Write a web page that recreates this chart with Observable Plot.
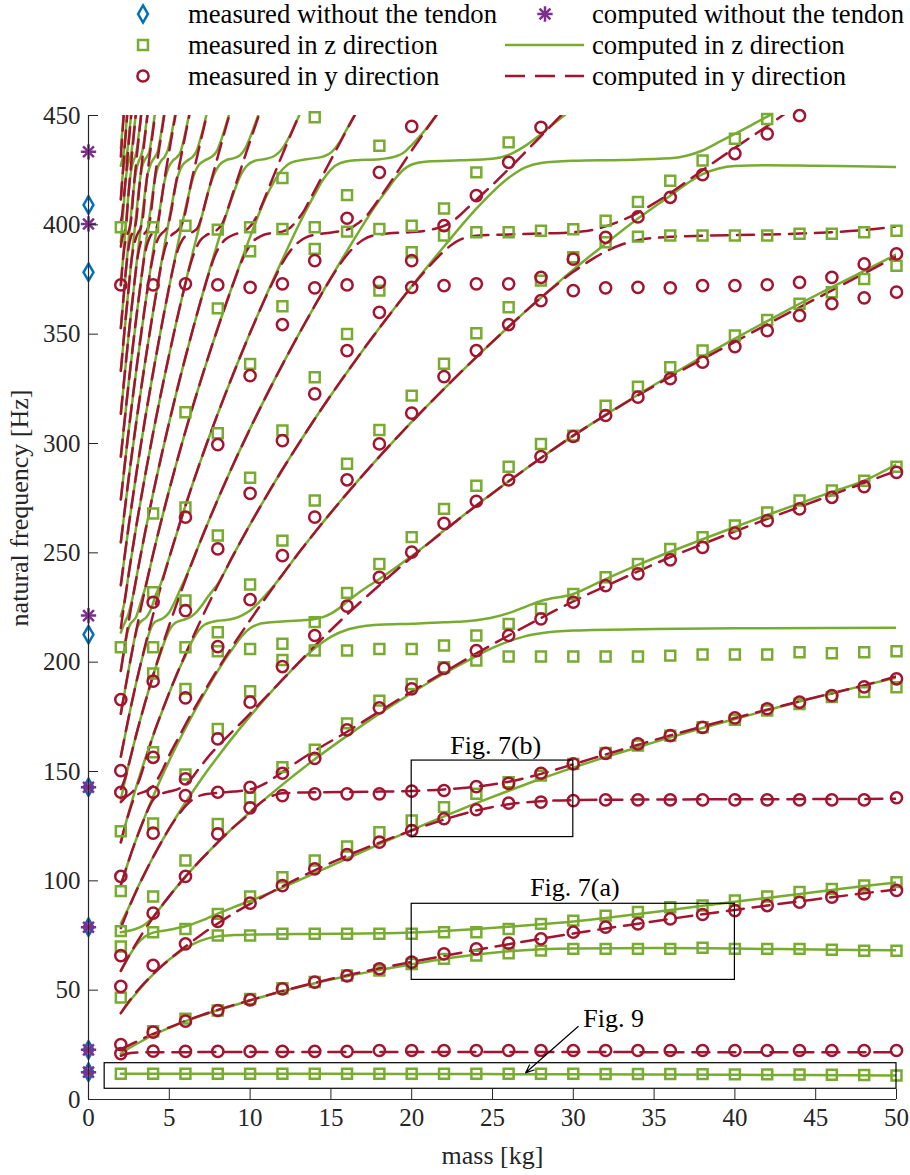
<!DOCTYPE html>
<html><head><meta charset="utf-8">
<script src="https://cdn.jsdelivr.net/npm/d3@7"></script>
<script src="https://cdn.jsdelivr.net/npm/@observablehq/plot@0.6"></script>
<style>
body{margin:0;background:#fff;}
#legend svg,#chart svg{display:block;}
</style></head><body>
<div id="legend"></div>
<div id="chart"></div>
<script>
// ---------- computed curves, z direction (green solid): [mass, frequency] ----------
const z0=[[2,11.8],[10,11.8],[20,11.7],[30,11.5],[40,11.3],[50,11.0]];
const z1=[[2,21],[2.5,23.5],[3,25.5],[4,29.5],[5,32.8],[6,35.8],[7,38.4],[8,40.8],[10,45.3],[12,49.5],[14,53.2],[16,56.4],[18,59.2],[20,61.9],[22,64.3],[24,66.3],[26,67.8],[28,68.7],[30,69.1],[35,69.3],[40,69],[45,68.6],[50,68.2]];
const z2=[[2,39.5],[2.5,44.5],[3,49],[3.5,53.3],[4,57.2],[4.5,60.8],[5,64],[5.5,66.8],[6,69.2],[6.5,71.2],[7,72.8],[7.5,73.9],[8,74.6],[9,75.2],[10,75.4],[12,75.6],[14,75.7],[16,75.8],[18,76],[20,76.4],[22,77.1],[24,78],[26,79],[28,80.1],[30,81.4],[32,83],[34,84.8],[36,86.7],[38,88.6],[40,90.4],[42,92.2],[44,94],[46,95.8],[48,97.6],[50,99.3]];
const z3=[[2,58.8],[2.5,65.5],[3,71],[3.5,74.5],[4,76.3],[5,77.6],[6,79.2],[7,81.8],[8,85],[9,88],[10,90.8],[11,93.8],[12,96.9],[14,103.5],[16,110.2],[18,116.8],[20,123.2],[22,129.5],[24,135.5],[26,141.2],[28,146.7],[30,151.8],[32,156.6],[34,161.1],[36,165.6],[38,169.9],[40,174],[42,178],[44,182],[46,185.7],[48,189.4],[50,193]];
const z4=[[2,76.5],[2.5,77.2],[3,78.2],[3.5,80],[4,83.5],[4.5,88.2],[5,93],[6,101.9],[7,110],[8,117.6],[9,124.7],[10,131.5],[12,144],[14,155.6],[16,166.3],[18,176.4],[20,185.9],[22,194.8],[24,202.8],[25,206.5],[26,209.5],[27,211.8],[28,213.2],[30,214.5],[35,215.2],[40,215.5],[50,215.7]];
const z5=[[2,80.5],[2.5,88],[3,96.2],[4,110.9],[5,124],[6,135.8],[7,146.7],[8,156.8],[9,166.3],[10,175.3],[11,183.9],[12,192],[13,199.6],[14,206.4],[15,211.6],[16,214.8],[17,216.4],[18,217.1],[20,217.6],[22,218.2],[24,219.2],[25,220.4],[26,222.4],[27,225.2],[28,228],[30,231.2],[32,238],[34,244.5],[36,250.5],[38,256.2],[40,261.8],[42,267.3],[44,272.6],[46,277.8],[48,283],[50,290.5]];
const z6=[[2,98],[2.5,109.5],[3,120],[3.5,129.6],[4,138.6],[5,155],[6,169.8],[7,183.4],[8,196],[8.5,201.8],[9,207],[9.5,212],[10,215.5],[10.5,217.3],[11,218],[12,218.6],[13,219],[14,219.7],[14.5,220.6],[15,222.2],[15.5,224.6],[16,227.6],[17,233.2],[18,238],[20,248.5],[22,260.2],[24,271.7],[26,282.7],[28,293.4],[30,303.6],[32,313.1],[34,322.3],[36,331.1],[38,339.7],[40,348],[42,356],[44,363.9],[46,371.5],[48,378.9],[50,386.5]];
const z7=[[2,117.6],[2.5,131.5],[3,144.1],[3.5,155.6],[4,166.3],[4.5,176.4],[5,186],[5.5,195],[6,203],[6.4,209.5],[6.8,214.4],[7.2,217.2],[7.6,218.3],[8,218.9],[8.5,219.3],[9,220],[9.5,221.4],[10,223.6],[10.5,227],[11,231],[11.5,235.2],[12,240],[13,249.9],[14,259.3],[15,268.4],[16,277.2],[18,294],[20,309.9],[22,325],[24,339.5],[26,353.4],[28,366.7],[30,379.5],[32,391.4],[34,402.9],[35,408.2],[36,413.3],[37,418.7],[38,423.2],[39,425.8],[40,426.9],[42,427.3],[45,427],[50,426.5]];
const z8=[[2,137.2],[2.5,153.4],[3,168.1],[3.5,181.5],[4,194],[4.5,205],[4.8,211.3],[5.1,215.8],[5.4,218.1],[5.8,219.2],[6.2,220.2],[6.6,222.3],[7,225.8],[7.4,230],[7.8,233.8],[8,235.8],[9,249.5],[10,263],[11,275.8],[12,288.1],[13,299.8],[14,311.2],[15,322.1],[16,332.6],[18,352.8],[20,371.9],[22,390.1],[24,407.4],[25,415],[26,421.5],[27,426.2],[28,428.3],[30,429.3],[33,429.7],[36,430.4],[37,431.6],[38,434],[39,437.8],[40,441.6],[41,445.5],[42,449.5],[43,453.3]];
const z9=[[2,156.8],[2.5,175.3],[3,192.1],[3.3,201.2],[3.5,206.5],[3.7,212],[3.9,216.2],[4.1,218.3],[4.4,219.3],[4.7,220.5],[5,222.8],[5.3,227],[5.6,232],[6,238.5],[7,256.7],[8,274.4],[9,291.1],[10,306.8],[11,321.8],[12,336.1],[13,349.8],[14,363],[15,375.8],[16,388.1],[17,400.1],[18,411.3],[18.5,416.3],[19,421.3],[19.5,425.3],[20,427.6],[21,429],[23,429.5],[25,430.2],[26,432],[27,436],[28,441.5],[29,447.5],[29.6,451]];
const z10=[[2,176.4],[2.5,197.2],[2.7,205],[2.85,210.8],[3,215.3],[3.15,217.8],[3.35,219.2],[3.55,220.3],[3.75,222.4],[3.95,226],[4.15,230.5],[4.4,234.5],[5,247.9],[6,271.6],[7,293.4],[8,313.6],[9,332.6],[10,350.6],[11,367.8],[12,384.1],[13,399.8],[14,414],[14.5,420.5],[15,425.3],[15.5,428],[16.5,429.5],[18,430],[19,431.3],[19.5,433],[20,436.5],[20.5,440.5],[21,445],[21.5,449.9],[22,455]];
const z11=[[2,196],[2.2,205.6],[2.3,209.8],[2.45,214.8],[2.6,217.6],[2.8,219.2],[2.95,220.8],[3.1,224],[3.3,229],[3.5,233.6],[4,249.5],[4.5,264.6],[5,278.9],[6,305.6],[7,330],[8,352.8],[9,374.2],[10,394.5],[11,413],[11.5,420],[12,425.3],[12.5,428.3],[13.5,430],[14.5,431.2],[15,433],[15.5,437.5],[16,444],[16.5,450.6],[17,457]];
const z12=[[2,213.5],[2.15,216.5],[2.3,219],[2.45,221.5],[2.6,225.5],[2.8,232],[3,240.1],[3.5,259.3],[4,277.2],[4.5,294],[5,309.9],[5.5,325.1],[6,339.5],[6.5,353.4],[7,366.7],[7.5,379.6],[8,392],[8.5,404.1],[9,415],[9.4,422.5],[9.8,427],[10.3,429.3],[11,430.2],[11.5,431.5],[11.9,434],[12.3,438.5],[12.7,444.5],[13.1,451],[13.5,457]];
const z13=[[2,221],[2.2,226.5],[2.5,241],[3,264.1],[3.5,285.2],[4,304.9],[4.5,323.4],[5,340.9],[5.5,357.6],[6,373.5],[6.5,388.7],[7,403.4],[7.4,415],[7.75,422.8],[8.1,427.4],[8.5,429.5],[9,430.5],[9.4,432],[9.7,435],[10,440],[10.3,446],[10.6,452],[10.9,458]];
const z14=[[2,235.2],[2.5,263],[3,288.1],[3.5,311.2],[4,332.6],[4.5,352.8],[5,371.9],[5.5,390.1],[6,407.4],[6.2,413.8],[6.5,422.3],[6.8,427.2],[7.2,429.5],[7.6,431],[7.95,433.8],[8.2,438.5],[8.5,445.5],[8.8,453],[9,458]];
const z15=[[2,254.8],[2.5,284.9],[3,312.1],[3.5,337.1],[4,360.4],[4.5,382.2],[5,402.9],[5.25,413],[5.5,421.5],[5.75,426.5],[6.1,429.3],[6.4,430.8],[6.7,434],[6.95,440],[7.2,447.3],[7.45,455]];
const z16=[[2,274.4],[2.5,306.8],[3,336.1],[3.5,363],[4,388.1],[4.5,411],[4.7,419.8],[4.95,426.2],[5.2,429.2],[5.45,430.8],[5.7,433.5],[5.9,439],[6.1,446],[6.3,453]];
const z17=[[2,294],[2.5,328.7],[3,360.1],[3.5,389],[3.9,410.5],[4.1,420.5],[4.3,426.5],[4.5,429.3],[4.7,431],[4.9,434],[5.05,438.5],[5.2,444],[5.4,452]];
const z18=[[2,313.6],[2.5,350.6],[3,384.1],[3.45,412],[3.6,421],[3.8,426.8],[3.95,429.3],[4.1,431],[4.3,434],[4.45,440],[4.6,447],[4.75,454.5]];
const z19=[[2,333.2],[2.5,372.5],[3,408.1],[3.15,418.5],[3.3,426],[3.45,429.3],[3.6,431],[3.78,434],[3.9,439.5],[4.02,446],[4.15,453]];
const z20=[[2,352.8],[2.5,394.5],[2.75,413.5],[2.88,421.5],[3,426.5],[3.12,429.3],[3.22,431],[3.34,434],[3.45,439],[3.55,445],[3.68,453]];
const z21=[[2,372.4],[2.3,399.4],[2.45,412],[2.57,421],[2.68,426.5],[2.78,429.3],[2.88,431],[2.98,434],[3.08,439.5],[3.17,445],[3.28,452]];
const z22=[[2,392],[2.2,411],[2.3,420.5],[2.41,426.5],[2.5,429.3],[2.58,431],[2.67,434],[2.76,439.5],[2.85,445.5],[2.95,452]];
const z23=[[2,411.6],[2.08,420],[2.18,426.5],[2.26,429.3],[2.33,431],[2.41,434],[2.49,439.5],[2.57,445.5],[2.66,452]];
const z24=[[2,427],[2.07,429.3],[2.13,431],[2.2,434],[2.27,439.5],[2.33,445],[2.41,452]];
const z25=[[2,435],[2.06,440],[2.12,445.5],[2.19,452]];

// ---------- computed curves, y direction (red dashed) ----------
const y0=[[2,20],[2.3,20.8],[2.6,21.3],[3,21.5],[4,21.6],[10,21.7],[20,21.7],[30,21.7],[40,21.6],[50,21.6]];
const y1=[[2,23],[2.5,24.8],[3,26.6],[4,30],[5,33],[6,35.9],[7,38.6],[8,41],[10,45.4],[12,49.6],[14,53.4],[16,56.8],[18,60],[20,62.9],[22,65.7],[24,68.4],[26,71],[28,73.5],[30,75.9],[32,78.2],[34,80.4],[36,82.6],[38,84.7],[40,86.7],[42,88.7],[44,90.6],[46,92.5],[48,94.3],[50,96.1]];
const y2=[[2,39.5],[2.5,44.8],[3,49.5],[3.5,53.6],[4,57.4],[5,64],[6,70],[7,75.5],[8,80.5],[9,85.2],[10,89.5],[12,97.5],[14,104.8],[16,111.5],[18,117.5],[20,123],[22,128],[24,132.2],[26,135],[28,136.4],[30,136.9],[35,137.2],[40,137.3],[45,137.4],[50,137.5]];
const y3=[[2,58.8],[2.5,65.7],[3,72],[3.5,77.8],[4,83.2],[5,93],[6,101.9],[7,110],[8,117.6],[9,124.7],[10,131],[10.5,134.8],[11,137.5],[11.5,139.2],[12,140],[14,140.5],[16,140.6],[18,140.8],[20,141.1],[22,141.8],[24,143.1],[26,145.3],[28,148.9],[30,153.3],[32,157.8],[34,162.2],[36,166.5],[38,170.6],[40,174.5],[42,178.3],[44,182.1],[46,185.8],[48,189.4],[50,193.5]];
const y4=[[2,78.4],[2.5,87.6],[3,96],[3.5,103.7],[4,110.9],[4.5,117.6],[5,124],[5.5,129.5],[6,134.2],[6.5,137.5],[7,139.2],[8,140.2],[9,140.8],[10,141.8],[10.5,143],[11,144.8],[11.5,147.2],[12,149.8],[13,154.8],[14,159.5],[16,168.2],[18,177.5],[20,186.6],[22,195.4],[24,204],[26,212.2],[28,220.2],[30,227.8],[32,234.8],[34,241.5],[36,248],[38,254],[40,259.8],[42,265.5],[44,271],[46,276.5],[48,282],[50,287.5]];
const y5=[[2,98],[2.5,109.5],[3,120],[3.5,129.3],[3.8,134.5],[4.1,138],[4.4,139.6],[4.8,140.5],[5.2,141.2],[5.6,142.2],[6,144],[6.4,147],[6.8,151],[7.2,154.8],[7.5,157.5],[8,161.5],[9,169],[10,176.5],[11,184.3],[12,192],[14,207.4],[16,221.8],[18,235.2],[20,248],[22,260],[24,271.6],[26,282.7],[28,293.4],[30,303.6],[32,313],[34,322],[36,330.5],[38,338.6],[40,346.5],[42,354.5],[44,362.3],[46,370],[48,377.8],[50,385.5]];
const y6=[[2,117.6],[2.3,126.1],[2.5,131],[2.7,135.5],[2.9,138.5],[3.1,139.8],[3.4,140.6],[3.7,141.6],[4,143.5],[4.3,146.8],[4.6,151],[5,157.5],[5.5,164.5],[6,171.5],[7,184.5],[8,196.8],[9,208.3],[10,219.2],[11,229.8],[12,240],[13,249.9],[14,259.3],[16,277.2],[18,294],[20,309.9],[22,325],[24,339.5],[26,353.4],[28,366.7],[30,378.5],[31,383.5],[32,387.8],[33,391],[34,393],[36,394.5],[38,395],[40,395.3],[42,395.6],[44,396],[46,396.6],[48,397.6],[50,399.3]];
const y7=[[2,136],[2.3,138.3],[2.6,139.9],[2.8,141.3],[3,143.5],[3.3,149.5],[3.6,157],[4,166.5],[4.5,176.6],[5,186.1],[6,203.7],[7,220],[8,235.2],[9,249.5],[10,263],[11,275.8],[12,288.1],[13,299.8],[14,311.2],[15,322.1],[16,332.6],[17,342.9],[18,352.8],[19,362.4],[20,371.7],[21,380.3],[21.5,384.3],[22,388],[22.5,391],[23,393.2],[24,395],[26,395.6],[28,396],[30,396.6],[31,397.4],[32,399.3],[33,402],[34,405.5],[35,409.8],[36,414.5],[38,425],[40,435.2],[42,445.2],[43,450.3],[43.5,453]];
const y8=[[2,142],[2.3,147.8],[2.5,153.5],[3,168.1],[3.5,181.5],[4,194],[5,217],[6,237.7],[7,256.7],[8,274.4],[9,291.1],[10,306.8],[11,321.8],[12,336.1],[13,349.8],[14,363],[15,375.5],[15.5,381.3],[16,386.3],[16.5,390.3],[17,393.2],[17.5,394.9],[18.5,396],[20,396.7],[21,397.5],[22,399.5],[22.5,401.5],[23,404.5],[23.5,408],[24,411.5],[25,418.3],[26,425.5],[27,433],[28,440.6],[29,448.2],[29.5,452]];
const y9=[[2,156.8],[2.5,175.3],[3,192.1],[3.5,207.4],[4,221.8],[5,247.9],[6,271.6],[7,293.4],[8,313.6],[9,332.6],[10,350.6],[11,367.5],[11.5,375.3],[12,382.6],[12.5,388.2],[13,392.1],[13.5,394.4],[14.5,396],[15.5,397],[16.2,398.4],[16.7,400.8],[17.2,404],[17.7,409],[18.2,414.2],[19,422.9],[20,434],[21,444.6],[22,455]];
const y10=[[2,176.4],[2.5,197.2],[3,216.1],[3.5,233.4],[4,249.5],[5,278.9],[6,305.6],[7,330],[8,352.8],[9,374],[9.4,382],[9.8,388.3],[10.2,392.5],[10.7,395],[11.3,396.2],[12,396.9],[12.5,398.8],[12.9,402],[13.3,406],[13.7,411.5],[14.2,418.5],[14.7,425.5],[15.2,432.5],[15.7,439.5],[16.2,446.4],[16.7,453.2]];
const y11=[[2,196],[2.5,219.1],[3,240.1],[3.5,259.3],[4,277.2],[4.5,294],[5,309.9],[5.5,325.1],[6,339.5],[6.5,353.4],[7,366.7],[7.5,379],[7.8,385.5],[8.1,390],[8.5,393.5],[9,395.5],[9.5,396.8],[9.9,398.5],[10.2,401.2],[10.5,405.2],[11,414],[11.5,423.2],[12,432.2],[12.5,441],[13,449.7],[13.3,455]];
const y12=[[2,215.6],[2.5,241],[3,264.1],[3.5,285.2],[4,304.9],[4.5,323.4],[5,340.9],[5.5,357.6],[6,373.2],[6.3,381.8],[6.6,388.3],[6.9,392.7],[7.3,395.3],[7.7,396.6],[8,398],[8.3,400.8],[8.6,406.8],[9,415.9],[9.5,427.2],[10,438.3],[10.5,449.1],[10.8,455.5]];
const y13=[[2,235.2],[2.5,263],[3,288.1],[3.5,311.2],[4,332.6],[4.5,352.8],[5,371.9],[5.3,382.3],[5.55,389],[5.8,393],[6.1,395.5],[6.45,396.8],[6.75,398.6],[7,403.6],[7.25,410.6],[7.5,417.6],[8,431.2],[8.5,444.5],[8.8,452.3]];
const y14=[[2,254.8],[2.5,284.9],[3,312.1],[3.5,337.1],[4,360.4],[4.3,373.4],[4.55,383.6],[4.75,389.7],[4.95,393.5],[5.2,395.7],[5.45,397],[5.7,399.2],[5.9,403],[6.1,409.5],[6.3,417.5],[6.6,427.3],[7,440.1],[7.3,449.4],[7.5,455.5]];
const y15=[[2,274.4],[2.5,306.8],[3,336.1],[3.5,363],[3.8,377.8],[3.98,385.2],[4.15,390.5],[4.35,394.3],[4.55,396.2],[4.75,397.6],[4.95,400.6],[5.15,407.5],[5.35,416.6],[5.6,426.4],[5.9,437.6],[6.2,448.6],[6.4,455.8]];
const y16=[[2,294],[2.5,328.7],[3,360.1],[3.3,377.2],[3.46,385.5],[3.62,390.8],[3.8,394.5],[3.97,396.4],[4.15,397.8],[4.32,401.5],[4.5,410.5],[4.7,420.7],[5,433.9],[5.3,446.7],[5.5,455]];
const y17=[[2,313.6],[2.5,350.6],[2.8,370.7],[2.97,381.5],[3.12,388.5],[3.28,393],[3.45,395.8],[3.62,397.5],[3.78,401],[3.93,409.5],[4.1,421],[4.4,436.1],[4.7,450.7],[4.85,457.8]];
const y18=[[2,333.2],[2.3,357.4],[2.5,372],[2.65,383],[2.8,390],[2.95,394.3],[3.08,396.5],[3.22,398.4],[3.36,403],[3.5,413.5],[3.7,426.6],[3.9,437.9],[4.15,451.8]];
const y19=[[2,352.8],[2.2,369.5],[2.35,381.8],[2.49,390],[2.62,394.5],[2.74,396.6],[2.86,398.5],[2.98,403.5],[3.1,413.5],[3.3,428],[3.5,440.8],[3.7,453.2]];
const y20=[[2,372.4],[2.12,383],[2.24,390.5],[2.36,394.8],[2.47,396.8],[2.57,399.2],[2.67,404.5],[2.78,415.5],[2.95,428.5],[3.1,439.3],[3.3,453.2]];
const y21=[[2,390],[2.08,393.8],[2.17,396],[2.26,397.5],[2.35,401.5],[2.45,412],[2.6,424.6],[2.75,436.7],[2.95,452.3]];
const y22=[[2,401.5],[2.08,404.5],[2.16,410.5],[2.3,421],[2.45,434],[2.64,450],[2.7,455.5]];
const y23=[[2,411.6],[2.2,431.7],[2.4,450.9]];
const y24=[[2,431.2],[2.2,452.3]];

// ---------- measured values ----------
const masses=[2,4,6,8,10,12,14,16,18,20,22,24,26,28,30,32,34,36,38,40,42,44,46,48,50];
const zMeasured=[
 [11.8,46.6,70,77,95.3,122.7,206.8,398.9],
 [11.8,31.2,76.5,92.8,126.2,158.8,194.8,206.8,232,268,398.9],
 [11.8,37,78,109.3,148.6,187.8,206.8,228.2,270.8,314.3,399.6],
 [11.8,40.7,75,84.9,126,169.5,205,213.7,257.9,304.7,361.8,397.8],
 [11.8,46,75,92.8,138,186.7,206,235.5,284.3,336.4,387.9,398.9],
 [11.8,50.9,75.8,101.6,152,201,208.4,255.6,306,362.8,398.1,421.4],
 [11.8,53.7,75.8,109.3,160,205.3,218.3,273.9,330.3,389,398.9,449.2],
 [11.8,56.7,75.8,115.7,172,205.3,231.7,290.7,350.1,396.9,413.6],
 [11.8,59,75.8,122.2,182.4,206,244.9,306.2,369.9,398.1,436.2],
 [11.8,62,75.8,127.6,190,206,257.2,321.9,387.5,399.6],
 [11.8,64.3,76.5,133.7,197.7,207.6,270.1,336.5,395.1,407.5],
 [11.8,65.8,76.5,139.8,200.7,212.2,280.7,350.4,396.6,424],
 [11.8,66.9,78,145.1,202.6,217.5,289.4,362.3,396.6,437.7],
 [11.8,68.1,80.3,148.1,202.6,224.4,299.8,374.5,397.3],
 [11.8,68.9,81.8,153.5,202.6,231.2,303.6,385.2,398],
 [11.7,68.9,84.1,158.5,202.6,238.8,317.3,392,401.9],
 [11.7,68.9,85.8,161.9,202.6,244.9,326,394.6,410.5],
 [11.7,68.9,87.9,166.4,203,251.8,334.9,395.1,420.2],
 [11.6,69.4,88.7,170.2,203.5,257.1,342.5,395.1,429.4],
 [11.5,68.9,91,173.6,203.5,262.5,349.4,395.1,439.4],
 [11.5,68.9,92.8,177.9,203.5,268.5,356.5,395.1,448.4],
 [11.4,68.9,94.9,180.9,204.5,273.9,363.9,395.9],
 [11.3,68.5,96.3,184,204.1,278.5,369.2,395.9],
 [11.2,68,97.9,186.3,204.5,283,375.2,396.6],
 [11.0,68,99.4,188.5,205,289.4,381.3,397.3]];
const yMeasured=[
 [21,25.1,51.7,65.8,102,140.5,150.4,182.9,372.5],
 [22.1,30.8,61.3,85.2,121.8,140.5,156.5,191.3,227.4,372.5],
 [22,35.8,71.2,102,139,146.6,183.7,223.6,266.3,373],
 [22,40.7,81.4,121.5,140.5,164.9,207.1,251.8,299.5,372.5],
 [22,45.6,89.8,133.4,142.8,181.7,228.6,277.2,331,371.4],
 [22,50.6,97.8,139,149.2,198,248.7,301.3,354.4,373],
 [22,53.7,105.5,139.8,156,212.2,266.3,322.7,371.2,383.6],
 [22,56.5,112,139.8,169,225.6,283.4,342.5,372.5,403],
 [22.4,59.8,117.7,139.8,179.1,238.8,299.8,360,373.7,424],
 [22.4,62.8,123,141,187.8,250.3,313.9,371.4,383.6,445],
 [22.4,66.6,128.4,141.3,197.2,263.5,330.6,372.2,399.6],
 [22.4,68.9,132.5,143.1,205.3,273.6,342.5,373,413.4],
 [22.4,71.5,135.5,144.6,212.2,283.3,354.4,373,428.6],
 [22.4,73.5,136,149.2,219.8,294,365.3,376,444.6],
 [22.4,76.5,136.7,153.5,227.4,303.2,369.9,384.3],
 [22.4,78.8,137,158.3,235,312.8,371.2,394.3],
 [22.4,80.3,137,162.6,240.4,321.2,371.4,403.6],
 [22.4,82.6,137,166.4,246.8,329.6,371.2,412.6],
 [22.4,84.6,137,170.2,252.5,337.2,372.2,422.9],
 [22.4,86.4,137,174.5,259,344.3,372.2,432.6],
 [22.4,88.7,137,178.7,264.7,351.6,372.6,441.6],
 [22.4,90.2,137,181.7,270.1,358.5,373.7,449.9],
 [22.4,92.5,137,184.7,275.4,363.9,376],
 [22.4,94,137,188.7,280.3,366.6,382.1],
 [22.4,95.6,138,192.4,286.8,369.2,386.7]];
const measuredNoTendon=[12.5,22.7,78.8,142.8,212.6,378.3,409.1];
const computedNoTendon=[12.5,22.7,78.8,142.8,221.3,400.4,433.4];

// ---------- annotations ----------
const boxLabels=["Fig. 7(b)","Fig. 7(a)","Fig. 9"];
const boxX1=[20,20,1], boxX2=[30,40,50], boxY1=[120,54.7,4.9], boxY2=[155,89.5,16.6];
const labelX=[25.2,30.1,32.5], labelY=[162,97.1,36.9];
const arrowFrom=[30.3,33.4], arrowTo=[27.05,12.2];
const xTicks=[0,5,10,15,20,25,30,35,40,45,50];
const yTicks=[0,50,100,150,200,250,300,350,400,450];
const xLabel="mass [kg]", yLabel="natural frequency [Hz]";
const legendLabels=["measured without the tendon","computed without the tendon","measured in z direction","computed in z direction","measured in y direction","computed in y direction"];

// ---------- build tables ----------
const GREEN="#77AC30", RED="#A2142F", BLUE="#0072BD", PURPLE="#7E2F8E", AX="#262626";
const FONT="'Liberation Serif','Times New Roman',Times,serif";
const DASH="17,9";
const zBranches=[z0,z1,z2,z3,z4,z5,z6,z7,z8,z9,z10,z11,z12,z13,z14,z15,z16,z17,z18,z19,z20,z21,z22,z23,z24,z25];
const yBranches=[y0,y1,y2,y3,y4,y5,y6,y7,y8,y9,y10,y11,y12,y13,y14,y15,y16,y17,y18,y19,y20,y21,y22,y23,y24];
const zRows=zBranches.flatMap((b,i)=>b.map(p=>({m:p[0],f:p[1],id:i})));
const yRows=yBranches.flatMap((b,i)=>b.map(p=>({m:p[0],f:p[1],id:i})));
const zPts=masses.flatMap((m,i)=>zMeasured[i].map(f=>({m,f})));
const yPts=masses.flatMap((m,i)=>yMeasured[i].map(f=>({m,f})));
const measNT=measuredNoTendon.map(f=>({m:0,f}));
const compNT=computedNoTendon.map(f=>({m:0,f}));

// ---------- legend ----------
const L=d3.select("#legend").append("svg").attr("width",910).attr("height",100)
  .attr("font-family",FONT).attr("font-size",26.7).attr("fill","#000");
const sym=(t,r)=>d3.symbol(t,r*r*Math.PI)();
const rowsY=[14,45,76];
const symX=143, astX=545, sampleX1=505, sampleX2=584, textX1=188, textX2=592;
L.append("path").attr("d",sym(d3.symbolDiamond,5.2)).attr("transform",`translate(${symX},${rowsY[0]})`).attr("fill","none").attr("stroke",BLUE).attr("stroke-width",2.5);
L.append("path").attr("d",sym(d3.symbolSquare,5.6)).attr("transform",`translate(${symX},${rowsY[1]})`).attr("fill","none").attr("stroke",GREEN).attr("stroke-width",2.5);
L.append("path").attr("d",sym(d3.symbolCircle,5.6)).attr("transform",`translate(${symX},${rowsY[2]})`).attr("fill","none").attr("stroke",RED).attr("stroke-width",2.5);
L.append("path").attr("d",sym(d3.symbolPlus,5)).attr("transform",`translate(${astX},${rowsY[0]})`).attr("fill","none").attr("stroke",PURPLE).attr("stroke-width",2.5);
L.append("path").attr("d",sym(d3.symbolTimes,5)).attr("transform",`translate(${astX},${rowsY[0]})`).attr("fill","none").attr("stroke",PURPLE).attr("stroke-width",2.5);
L.append("line").attr("x1",sampleX1).attr("x2",sampleX2).attr("y1",rowsY[1]).attr("y2",rowsY[1]).attr("stroke",GREEN).attr("stroke-width",2.5);
L.append("line").attr("x1",sampleX1).attr("x2",sampleX2).attr("y1",rowsY[2]).attr("y2",rowsY[2]).attr("stroke",RED).attr("stroke-width",2.5).attr("stroke-dasharray","20,10");
legendLabels.forEach((t,i)=>{
  L.append("text").attr("x",i%2===0?textX1:textX2).attr("y",rowsY[Math.floor(i/2)]).attr("dy","0.32em").text(t);
});

// ---------- chart ----------
const chart=Plot.plot({
  width:910, height:1075,
  marginLeft:88, marginRight:14, marginTop:15, marginBottom:76,
  x:{domain:[0,50]}, y:{domain:[0,450]},
  style:{fontFamily:FONT, color:AX, background:"white"},
  marks:[
    Plot.line(zRows,{x:"m",y:"f",z:"id",stroke:GREEN,strokeWidth:2.5,curve:"monotone-x",clip:true}),
    Plot.line(yRows,{x:"m",y:"f",z:"id",stroke:RED,strokeWidth:2.5,strokeDasharray:DASH,curve:"monotone-x",clip:true}),
    Plot.dot(zPts,{x:"m",y:"f",symbol:"square",r:5.6,stroke:GREEN,strokeWidth:2.5,fill:"none"}),
    Plot.dot(yPts,{x:"m",y:"f",symbol:"circle",r:5.6,stroke:RED,strokeWidth:2.5,fill:"none"}),
    Plot.dot(measNT,{x:"m",y:"f",symbol:"diamond",r:5.2,stroke:BLUE,strokeWidth:2.5,fill:"none"}),
    Plot.dot(compNT,{x:"m",y:"f",symbol:"plus",r:5,stroke:PURPLE,strokeWidth:2.5}),
    Plot.dot(compNT,{x:"m",y:"f",symbol:"times",r:5,stroke:PURPLE,strokeWidth:2.5}),
    Plot.rect(boxLabels,{x1:(d,i)=>boxX1[i],x2:(d,i)=>boxX2[i],y1:(d,i)=>boxY1[i],y2:(d,i)=>boxY2[i],fill:"none",stroke:"#000",strokeWidth:1.2}),
    Plot.text(boxLabels,{x:(d,i)=>labelX[i],y:(d,i)=>labelY[i],fontSize:26,fill:"#000"}),
    Plot.arrow([0],{x1:()=>arrowFrom[0],y1:()=>arrowFrom[1],x2:()=>arrowTo[0],y2:()=>arrowTo[1],stroke:"#000",strokeWidth:1.2,headLength:11,headAngle:45}),
    Plot.ruleX([0],{stroke:AX,strokeWidth:1.2}),
    Plot.ruleY([0],{stroke:AX,strokeWidth:1.2}),
    Plot.axisX({ticks:xTicks,tickSize:10,dy:-10,tickPadding:9,fontSize:25,label:null}),
    Plot.axisY({ticks:yTicks,tickSize:10,dx:10,tickPadding:8,fontSize:25,label:null}),
    Plot.text([xLabel],{frameAnchor:"bottom",dy:64,fontSize:26,fill:AX})
  ]
});
// y-axis title (rotated), placed beside the axis
d3.select(chart).append("text")
  .attr("transform","translate(20,408) rotate(-90)")
  .attr("text-anchor","middle").attr("dy","0.32em")
  .attr("font-family",FONT).attr("font-size",26).attr("fill",AX)
  .text(yLabel);
document.getElementById("chart").appendChild(chart);
</script>
</body></html>
